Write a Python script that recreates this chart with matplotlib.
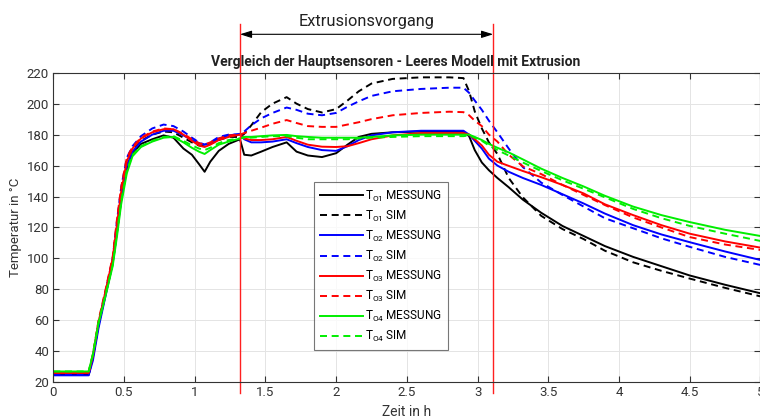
import numpy as np
import matplotlib
matplotlib.use('Agg')
import matplotlib.pyplot as plt

plt.rcParams['font.family'] = ['Roboto', 'DejaVu Sans']
plt.rcParams['mathtext.fontset'] = 'custom'
plt.rcParams['mathtext.rm'] = 'Roboto'

# time grid [h]
t = [0, 0.25, 0.28, 0.32, 0.37, 0.42, 0.45, 0.48, 0.52, 0.56,
     0.62, 0.70, 0.78, 0.85, 0.92, 0.98, 1.03, 1.07, 1.11, 1.17, 1.24,
     1.32, 1.35, 1.40, 1.47, 1.55, 1.65, 1.72, 1.80, 1.90, 2.00, 2.08, 2.16, 2.25, 2.40, 2.60, 2.80, 2.90,
     2.94, 2.98, 3.03, 3.08, 3.14, 3.22, 3.32, 3.45, 3.60, 3.75, 3.90, 4.10, 4.30, 4.50, 4.75, 5.00]

# temperatures [°C]
t01_mess = [25, 25, 36, 57, 77, 97, 117, 138, 158, 168,
            174, 177, 179.5, 178, 171, 167, 161, 156, 162.5, 169.5, 174,
            177, 167, 166.5, 169, 172, 175, 169, 166.5, 165.5, 168, 173.5, 178.5, 180.5, 181.5, 182, 182, 182,
            179, 170, 162, 157, 152, 146, 138, 129.5, 121, 114.5, 108, 101, 95, 89, 83, 77.5]
t01_sim = [25, 25, 36, 58, 78, 99, 121, 141, 162, 170,
           176, 180, 182, 181.5, 178, 175, 173, 172.5, 174, 176.5, 178.5,
           178.5, 180.5, 186, 194.5, 200, 204.2, 200, 196.5, 194.3, 196.5, 202, 208, 213, 216, 217, 217, 216.5,
           208, 195, 184, 175, 167.5, 152, 139.5, 127.5, 119, 112.5, 105, 97.5, 92, 87, 81, 75.5]
t02_mess = [24.5, 24.5, 34, 55, 76, 97, 117, 138, 160, 169,
            175.5, 180, 182.5, 182.5, 179.5, 176.5, 174.5, 173.5, 174.5, 177.5, 179.5,
            180.5, 177, 175, 175, 175.5, 177, 174.5, 172, 170, 169.5, 172.5, 176.5, 179.5, 181.5, 182.5, 182.5, 182.5,
            180, 176, 171, 164.5, 160, 156, 152, 147.5, 141.5, 135.5, 129, 121.5, 115.5, 110.5, 104.5, 99]
t02_sim = [25, 25, 36, 58, 79, 100, 124, 146, 165, 172.5,
           179, 184, 186.5, 185.5, 182, 178, 175, 173.5, 175, 178.5, 180,
           180, 182, 186, 190.5, 194, 197.5, 196, 193.5, 192.5, 194, 198, 201.5, 205, 208, 209.5, 210.3, 210.3,
           207, 202, 196, 189, 181.5, 171, 159, 149, 141, 133.5, 126, 119.5, 113, 107.5, 101, 95.8]
t03_mess = [26, 26, 37, 59, 79, 100, 122, 143, 163, 171,
            177.5, 181.5, 183.5, 183.5, 180, 176, 173, 172, 173.5, 176.5, 178.5,
            180, 177.5, 176.5, 176.5, 177, 178.5, 176, 173.5, 172.2, 172, 172.5, 174.5, 177, 179.5, 181, 181, 181,
            180, 177, 173, 167, 162.5, 159.8, 156.5, 152.5, 147.5, 142, 135, 128, 121.5, 116, 111, 107]
t03_sim = [26.5, 26.5, 38, 60, 80, 101, 125, 146, 165, 172,
           178, 182, 184, 183.5, 180.5, 177, 174.5, 173.5, 175, 177.5, 179.5,
           180, 181, 182.5, 184.5, 187, 189.4, 187.5, 185.5, 185, 185, 186.5, 188, 190, 192.5, 194, 194.8, 194.5,
           192.5, 189, 185.5, 180, 175.5, 167, 159.5, 154.5, 147.5, 141, 134.5, 126.5, 120, 113.8, 109, 105.5]
t04_mess = [27, 27, 38, 58, 76, 95, 114, 135, 155, 166,
            172, 175.5, 178, 178.5, 175, 171.5, 169, 167.5, 170, 173.5, 175.5,
            177.5, 178.5, 178.5, 179, 179.5, 179.8, 179, 178.5, 178, 178, 178, 178, 178.5, 179.5, 180, 180, 180,
            180, 178.5, 176.5, 174, 171.5, 168.5, 164, 158, 152, 146.5, 140.5, 133.5, 128, 123.5, 118.5, 114.5]
t04_sim = [27, 27, 38, 59, 77, 96, 116, 137, 157, 167,
           172.5, 176, 178.5, 179, 176, 173, 171, 170, 171.5, 174.5, 176.5,
           177.5, 178, 178, 178.5, 179, 179, 178, 177, 177, 177, 177, 177.5, 178, 178.5, 179, 179, 179,
           179.5, 178, 176, 173, 170, 166.5, 162, 156.5, 150.5, 145, 139.5, 132, 126, 121, 116, 111.3]

series = [t01_mess, t01_sim, t02_mess, t02_sim, t03_mess, t03_sim, t04_mess, t04_sim]
labels = [r'T$_{\mathrm{O1}}$ MESSUNG', r'T$_{\mathrm{O1}}$ SIM',
          r'T$_{\mathrm{O2}}$ MESSUNG', r'T$_{\mathrm{O2}}$ SIM',
          r'T$_{\mathrm{O3}}$ MESSUNG', r'T$_{\mathrm{O3}}$ SIM',
          r'T$_{\mathrm{O4}}$ MESSUNG', r'T$_{\mathrm{O4}}$ SIM']
colors = ['#000000', '#000000', '#0000ff', '#0000ff', '#ff0000', '#ff0000', '#00ee00', '#00ee00']
styles = ['-', (0, (3.6, 2.4))] * 4

extrusion = [1.32, 3.11]

fig = plt.figure(figsize=(7.6, 4.19), dpi=100)
ax = fig.add_axes([0.0701, 0.0876, 0.9305, 0.7389])

for i in range(len(series)):
    ax.plot(t, series[i], color=colors[i], linestyle=styles[i], linewidth=1.4, label=labels[i])

ax.set_xlim(0, 5)
ax.set_ylim(20, 220)
ax.set_xticks(np.arange(0, 5.01, 0.5))
ax.set_xticklabels(['0', '0.5', '1', '1.5', '2', '2.5', '3', '3.5', '4', '4.5', '5'])
ax.set_yticks(range(20, 221, 20))
ax.grid(True, color='#e4e4e4', linewidth=0.7)
ax.set_axisbelow(True)
ax.tick_params(direction='in', top=True, right=True, length=4, width=0.8,
               labelsize=9.5, colors='#333333', pad=3)
for s in ax.spines.values():
    s.set_color('#333333')
    s.set_linewidth(0.8)

ax.set_xlabel('Zeit in h', fontsize=10, color='#333333')
ax.xaxis.set_label_coords(0.4997, -0.072)
ax.set_ylabel('Temperatur in °C', fontsize=9.5, color='#333333')
ax.yaxis.set_label_coords(-0.044, 0.5)
ax.text(0.484, 1.033, 'Vergleich der Hauptsensoren - Leeres Modell mit Extrusion',
        transform=ax.transAxes, ha='center', va='center', fontsize=10, fontweight='bold', color='#222222')

leg = ax.legend(loc='upper left', bbox_to_anchor=(0.3686, 0.647), borderaxespad=0,
                fontsize=8.5, handlelength=3.6, handletextpad=0.15, labelspacing=0.42,
                frameon=True, fancybox=False, edgecolor='#555555', borderpad=0.55)
leg.get_frame().set_linewidth(0.8)

# extrusion phase markers
for x in extrusion:
    ax.axvline(x, ymin=-0.035, ymax=1.157, color='#ff2020', linewidth=1.0, clip_on=False)
ax.annotate('', xy=(extrusion[0], 1.124), xytext=(extrusion[1], 1.124),
            xycoords=('data', 'axes fraction'), textcoords=('data', 'axes fraction'),
            arrowprops=dict(arrowstyle='<|-|>,head_length=0.7,head_width=0.22', color='black',
                            linewidth=0.8, shrinkA=0, shrinkB=0), annotation_clip=False)
ax.text(np.mean(extrusion), 1.1654, 'Extrusionsvorgang', transform=ax.get_xaxis_transform(),
        ha='center', va='center', fontsize=11.8, color='#222222')

plt.savefig('out.png', dpi=100)
